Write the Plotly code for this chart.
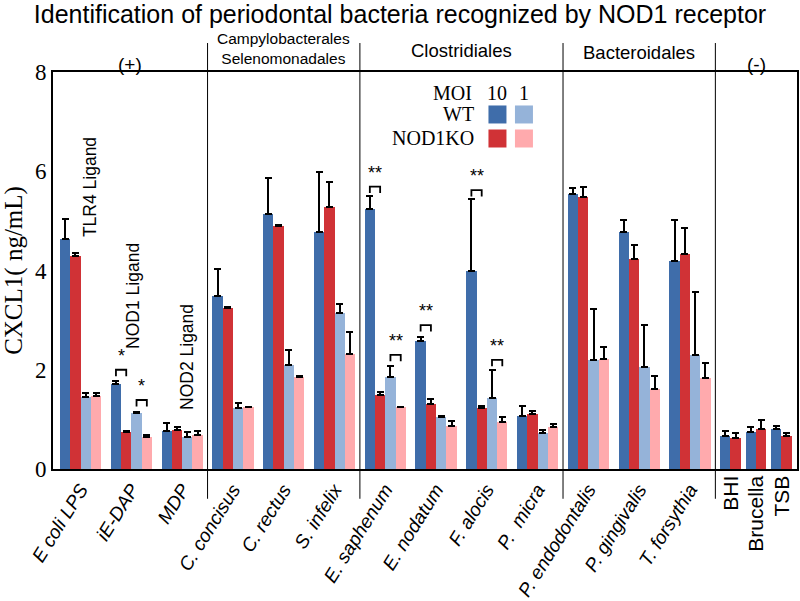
import plotly.graph_objects as go

# ---------------- data ----------------
categories = ["E coli LPS", "iE-DAP", "MDP", "C. concisus", "C. rectus", "S. infelix",
              "E. saphenum", "E. nodatum", "F. alocis", "P.  micra", "P. endodontalis",
              "P. gingivalis", "T. forsythia", "BHI", "Brucella", "TSB"]
orders = ["(+)"] * 3 + ["Campylobacterales<br>Selenomonadales"] * 3 + ["Clostridiales"] * 4 \
         + ["Bacteroidales"] * 3 + ["(-)"] * 3

wt10 = [4.64, 1.71, 0.77, 3.49, 5.13, 4.77, 5.23, 2.58, 4.00, 1.07, 5.54, 4.78, 4.19, 0.66, 0.75, 0.81]
wt10_err = [0.40, 0.06, 0.16, 0.54, 0.73, 1.21, 0.28, 0.09, 1.44, 0.19, 0.13, 0.23, 0.82, 0.11, 0.10, 0.06]
ko10 = [4.30, 0.74, 0.79, 3.24, 4.89, 5.27, 1.50, 1.30, 1.22, 1.10, 5.48, 4.23, 4.33, 0.63, 0.80, 0.67]
ko10_err = [0.05, 0.03, 0.06, 0.02, 0.02, 0.51, 0.05, 0.11, 0.04, 0.06, 0.21, 0.29, 0.53, 0.09, 0.18, 0.05]
wt1 = [1.46, 1.13, 0.65, 1.22, 2.10, 3.15, 1.85, 1.05, 1.44, 0.73, 2.20, 2.06, 2.30, None, None, None]
wt1_err = [0.08, 0.01, 0.09, 0.12, 0.30, 0.18, 0.23, 0.01, 0.56, 0.06, 1.03, 0.84, 1.27, None, None, None]
ko1 = [1.47, 0.65, 0.69, 1.24, 1.86, 2.32, 1.24, 0.87, 0.95, 0.85, 2.22, 1.61, 1.84, None, None, None]
ko1_err = [0.06, 0.04, 0.08, 0.01, 0.02, 0.44, 0.01, 0.10, 0.10, 0.06, 0.23, 0.27, 0.29, None, None, None]

# significance marks: (group, series a, series b, bracket top value, label)
significance = [
    ("iE-DAP", 0, 1, 2.00, "*"),
    ("iE-DAP", 2, 3, 1.39, "*"),
    ("E. saphenum", 0, 1, 5.69, "**"),
    ("E. saphenum", 2, 3, 2.30, "**"),
    ("E. nodatum", 0, 1, 2.90, "**"),
    ("F. alocis", 0, 1, 5.62, "**"),
    ("F. alocis", 2, 3, 2.20, "**"),
]

y_ticks = [0, 2, 4, 6, 8]

# ---------------- styles ----------------
C_WT10 = "#3F6DAA"
C_KO10 = "#D03236"
C_WT1 = "#95B3D9"
C_KO1 = "#FFAAAD"
SANS = "Liberation Sans, Arial, sans-serif"
SERIF = "Liberation Serif, Times New Roman, serif"

series = [
    ("WT MOI 10", wt10, wt10_err, C_WT10),
    ("NOD1KO MOI 10", ko10, ko10_err, C_KO10),
    ("WT MOI 1", wt1, wt1_err, C_WT1),
    ("NOD1KO MOI 1", ko1, ko1_err, C_KO1),
]

# ---------------- layout of slots ----------------
pad_left, pad_right = 0.68, 0.52
n_bars = [sum(1 for s in series if s[1][i] is not None) for i in range(len(categories))]
lefts = []
pos = pad_left
for i, n in enumerate(n_bars):
    if i > 0:
        pos += 0.93 if n_bars[i - 1] == 4 else 0.47
    lefts.append(pos)
    pos += n
x_max = pos + pad_right
centers = [lefts[i] + n_bars[i] / 2 for i in range(len(categories))]


def bar_x(i, k):
    return lefts[i] + k + 0.5


fig = go.Figure()
for k, (name, vals, errs, col) in enumerate(series):
    xs, ys, es = [], [], []
    for i, v in enumerate(vals):
        if v is None:
            continue
        xs.append(bar_x(i, k))
        ys.append(v)
        es.append(errs[i])
    fig.add_trace(go.Bar(
        x=xs, y=ys, width=1.0, name=name, marker=dict(color=col, line=dict(width=0)),
        error_y=dict(type="data", array=es, arrayminus=[0] * len(es), symmetric=False,
                     color="black", thickness=2, width=3.5),
        showlegend=False,
    ))

shapes = []
annotations = []

# separators between orders
sep_x = []
for i in range(1, len(categories)):
    if orders[i] != orders[i - 1]:
        sx = (lefts[i - 1] + n_bars[i - 1] + lefts[i]) / 2
        sep_x.append(sx)
        shapes.append(dict(type="line", xref="x", yref="paper", x0=sx, x1=sx, y0=-0.075, y1=1.073,
                           line=dict(color="black", width=1)))

# order header labels
bounds = [0] + sep_x + [x_max]
uniq = []
for o in orders:
    if o not in uniq:
        uniq.append(o)
header_y = {"(+)": 1.02, "Campylobacterales<br>Selenomonadales": 1.06, "Clostridiales": 1.053,
            "Bacteroidales": 1.05, "(-)": 1.02}
header_size = {"(+)": 19, "Campylobacterales<br>Selenomonadales": 15.5, "Clostridiales": 18.5,
               "Bacteroidales": 18.5, "(-)": 19}
for j, o in enumerate(uniq):
    annotations.append(dict(text=o, xref="x", yref="paper", x=(bounds[j] + bounds[j + 1]) / 2,
                            y=header_y[o], xanchor="center", yanchor="middle", showarrow=False,
                            font=dict(family=SANS, size=header_size[o], color="black")))

# significance brackets
for g, a, b, top, lab in significance:
    i = categories.index(g)
    xa, xb = bar_x(i, a), bar_x(i, b)
    shapes.append(dict(type="path", xref="x", yref="y",
                       path=f"M {xa},{top - 0.13} L {xa},{top} L {xb},{top} L {xb},{top - 0.13}",
                       line=dict(color="black", width=1.8)))
    annotations.append(dict(text=lab, xref="x", yref="y", x=(xa + xb) / 2, y=top + 0.04,
                            xanchor="center", yanchor="bottom", showarrow=False,
                            font=dict(family=SANS, size=18, color="black")))

# ligand labels
for txt, px, py in [("TLR4 Ligand", 0.0497, 0.710), ("NOD1 Ligand", 0.1075, 0.436),
                    ("NOD2 Ligand", 0.180, 0.282)]:
    annotations.append(dict(text=txt, xref="paper", yref="paper", x=px, y=py, textangle=-90,
                            xanchor="center", yanchor="middle", showarrow=False,
                            font=dict(family=SANS, size=17.5, color="black")))

# vertical tick labels for the negative controls
for i, c in enumerate(categories):
    if n_bars[i] == 2:
        annotations.append(dict(text=c, xref="x", yref="paper", x=centers[i], y=-0.012,
                                textangle=-90, xanchor="center", yanchor="top", showarrow=False,
                                font=dict(family=SANS, size=21, color="black")))

# custom legend
col_x = [0.5974, 0.633]
row_y = [0.893, 0.8325]
sq_w, sq_h = 18 / 744, 18 / 397
legend_cols = [[C_WT10, C_WT1], [C_KO10, C_KO1]]
for r in range(2):
    for cidx in range(2):
        shapes.append(dict(type="rect", xref="paper", yref="paper",
                           x0=col_x[cidx] - sq_w / 2, x1=col_x[cidx] + sq_w / 2,
                           y0=row_y[r] - sq_h / 2, y1=row_y[r] + sq_h / 2,
                           fillcolor=legend_cols[r][cidx], line=dict(width=0)))
legend_font = dict(family=SERIF, size=20, color="black")
annotations += [
    dict(text="MOI", xref="paper", yref="paper", x=0.566, y=0.947, xanchor="right", yanchor="middle",
         showarrow=False, font=legend_font),
    dict(text="10", xref="paper", yref="paper", x=col_x[0], y=0.947, xanchor="center", yanchor="middle",
         showarrow=False, font=legend_font),
    dict(text="1", xref="paper", yref="paper", x=col_x[1], y=0.947, xanchor="center", yanchor="middle",
         showarrow=False, font=legend_font),
    dict(text="WT", xref="paper", yref="paper", x=0.569, y=row_y[0], xanchor="right", yanchor="middle",
         showarrow=False, font=legend_font),
    dict(text="NOD1KO", xref="paper", yref="paper", x=0.569, y=row_y[1], xanchor="right", yanchor="middle",
         showarrow=False, font=legend_font),
]

tick_idx = [i for i in range(len(categories)) if n_bars[i] == 4]

fig.update_layout(
    width=800, height=601,
    margin=dict(l=53, r=3, t=72, b=132, autoexpand=False),
    paper_bgcolor="white", plot_bgcolor="white",
    barmode="overlay", bargap=0,
    title=dict(text="Identification of periodontal bacteria recognized by NOD1 receptor",
               x=0.5, xanchor="center", y=0.977, yanchor="middle",
               font=dict(family=SANS, size=25, color="black")),
    xaxis=dict(range=[0, x_max], tickmode="array", automargin=False,
               tickvals=[centers[i] for i in tick_idx],
               ticktext=[f"<i>{categories[i]}</i>" for i in tick_idx],
               tickangle=-58, ticks="", showgrid=False, zeroline=False,
               showline=True, linecolor="black", linewidth=2, mirror=True,
               tickfont=dict(family=SANS, size=19, style="italic", color="black")),
    yaxis=dict(range=[0, 8], tickmode="array", tickvals=y_ticks, ticks="", showgrid=False,
               automargin=False,
               zeroline=False, showline=True, linecolor="black", linewidth=2, mirror=True,
               tickfont=dict(family=SERIF, size=23, color="black"),
               title=dict(text="CXCL1( ng/mL)", font=dict(family=SERIF, size=25, color="black"),
                          standoff=6)),
    shapes=shapes,
    annotations=annotations,
)

fig.write_html("out.html", config={"displayModeBar": False},
               post_script="document.body.style.margin='0';")
